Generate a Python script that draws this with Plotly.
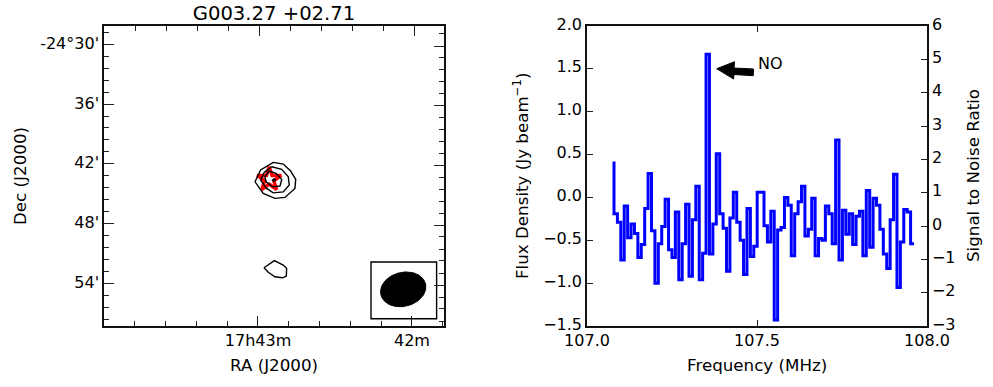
import numpy as np
import plotly.graph_objects as go

W, H = 993, 387
FONT = "DejaVu Sans"
TICK = 16
LABEL = 16.7

# --- spectrum -------------------------------------------------------------
flux = [0.42, -0.19, -0.29, -0.73, -0.10, -0.47, -0.31, -0.42, -0.70, -0.55, -0.13, 0.28,
        -0.39, -1.00, -0.54, -0.34, -0.02, -0.61, -0.70, -0.17, -0.96, -0.54, -0.08, -0.92,
        -0.26, 0.13, -0.96, -0.65, 1.67, -0.66, -0.31, 0.51, -0.19, -0.36, -0.86, -0.24,
        0.06, -0.29, -0.50, -0.90, -0.13, -0.69, -0.57, 0.06, 0.06, -0.33, -0.52, -0.16,
        -1.43, -0.38, -0.35, 0.00, -0.09, -0.68, -0.19, -0.05, 0.13, -0.45, -0.37, -0.01,
        -0.68, -0.48, -0.50, -0.10, -0.19, -0.54, 0.67, -0.73, -0.15, -0.43, -0.19, -0.55,
        -0.22, -0.16, -0.68, 0.08, -0.58, -0.01, -0.09, -0.37, -0.66, -0.83, -0.26, 0.27,
        -1.05, -0.52, -0.14, -0.17, -0.54]
freq_start, freq_end = 107.0794, 107.9618
freq = [freq_start + i * (freq_end - freq_start) / (len(flux) - 1) for i in range(len(flux))]

freq_ticks = [107.0, 107.5, 108.0]
flux_ticks = [-1.5, -1.0, -0.5, 0.0, 0.5, 1.0, 1.5, 2.0]
snr_ticks = [-3, -2, -1, 0, 1, 2, 3, 4, 5, 6]

# --- map (RA in minutes past 17h, Dec in arcmin south of -24 deg) ----------
ra_major = [43, 42]
ra_labels = ["17h43m", "42m"]
ra_minor = [43.8, 43.6, 43.4, 43.2, 42.8, 42.6, 42.4, 42.2, 41.8]
dec_major = [-30, -36, -42, -48, -54]
dec_labels = ["-24°30'", "36'", "42'", "48'", "54'"]
dec_minor = [-28.8, -31.2, -32.4, -33.6, -34.8, -37.2, -38.4, -39.6, -40.8, -43.2, -44.4, -45.6,
             -46.8, -49.2, -50.4, -51.6, -52.8, -55.2, -56.4, -57.6]
# the opposite edges of the sky grid sit slightly off the labelled edges
ra_top_major = [42.992, 41.985]
ra_top_minor = [43.798, 43.596, 43.395, 43.194, 42.790, 42.589, 42.388, 42.187]
dec_right_major = [-30.17, -36.12, -42.15, -48.14, -54.17]
dec_right_minor = [-28.96, -31.37, -32.57, -33.77, -34.92, -37.32, -38.53, -39.73, -40.94,
                   -43.35, -44.55, -45.75, -46.94, -49.34, -50.55, -51.75, -52.96,
                   -55.37, -56.57, -57.78]

c1_ra = [42.900, 42.836, 42.788, 42.755, 42.760, 42.825, 42.890, 42.966, 43.019, 42.983, 42.900]
c1_dec = [-41.85, -42.02, -42.72, -43.56, -44.47, -45.37, -45.47, -44.97, -43.80, -42.62, -41.85]
c2_ra = [42.911, 42.846, 42.803, 42.797, 42.836, 42.901, 42.944, 42.983, 42.959, 42.911]
c2_dec = [-42.29, -42.55, -43.30, -44.13, -44.81, -44.91, -44.47, -43.63, -42.85, -42.29]
c3_ra = [42.929, 42.883, 42.846, 42.857, 42.905, 42.948, 42.955, 42.929]
c3_dec = [-42.72, -42.95, -43.56, -44.23, -44.31, -43.80, -43.30, -42.72]
c4_ra = [42.896, 42.887, 42.896, 42.905, 42.896]
c4_dec = [-43.50, -43.63, -43.76, -43.63, -43.50]
c5_ra = [42.961, 42.894, 42.836, 42.814, 42.816, 42.840, 42.890, 42.933, 42.961]
c5_dec = [-52.43, -51.72, -52.16, -52.49, -53.27, -53.44, -53.34, -52.89, -52.43]
contours = [(c1_ra, c1_dec), (c2_ra, c2_dec), (c3_ra, c3_dec), (c4_ra, c4_dec), (c5_ra, c5_dec)]

source_ra, source_dec = [42.927], [-43.555]
beam_ra, beam_dec = 42.057, -54.60

# --- figure ---------------------------------------------------------------
fig = go.Figure()
fig.add_trace(go.Scatter(x=source_ra, y=source_dec, mode="markers",
                         marker=dict(symbol="star-open", size=18, color="red",
                                     line=dict(color="red", width=3.5)),
                         showlegend=False, xaxis="x", yaxis="y"))
for ra, dec in contours:
    fig.add_trace(go.Scatter(x=ra, y=dec, mode="lines", line=dict(color="black", width=1.4),
                             showlegend=False, hoverinfo="skip", xaxis="x", yaxis="y"))
t = np.linspace(0, 2 * np.pi, 120)
a_px, b_px, tilt = 23.0, 17.0, np.radians(14)
ex = a_px * np.cos(t) * np.cos(tilt) - b_px * np.sin(t) * np.sin(tilt)
ey = a_px * np.cos(t) * np.sin(tilt) + b_px * np.sin(t) * np.cos(tilt)
fig.add_trace(go.Scatter(x=beam_ra - ex / 154.0, y=beam_dec + ey / 9.96, mode="lines", fill="toself",
                         fillcolor="black", line=dict(color="black", width=1),
                         showlegend=False, hoverinfo="skip", xaxis="x", yaxis="y"))

fig.add_trace(go.Scatter(x=freq, y=flux, mode="lines", line=dict(color="#0000ff", width=3, shape="vh"),
                         showlegend=False, xaxis="x2", yaxis="y2"))
fig.add_trace(go.Scatter(x=[107, 107], y=[snr_ticks[0], snr_ticks[-1]], mode="lines", line=dict(width=0),
                         opacity=0, showlegend=False, hoverinfo="skip", xaxis="x2", yaxis="y3"))
# carriers for the opposite-edge tick axes of the map
fig.add_trace(go.Scatter(x=[43], y=[-30], mode="markers", opacity=0, showlegend=False, hoverinfo="skip",
                         xaxis="x3", yaxis="y4"))

frame = dict(showline=True, linecolor="#111111", linewidth=1.5, showgrid=False, zeroline=False,
             automargin=False, tickcolor="#222222",
             tickfont=dict(family=FONT, size=TICK, color="black"), ticks="inside")
minor = lambda vals: dict(tickmode="array", tickvals=vals, ticks="inside", ticklen=5, tickwidth=1,
                          tickcolor="#222222", showgrid=False)
map_x_range, map_y_range = [44.0, 41.792], [-58.28, -28.16]
dom_y = [1 - 326 / H, 1 - 26 / H]

fig.update_layout(
    width=W, height=H, margin=dict(l=0, r=0, t=0, b=0),
    paper_bgcolor="white", plot_bgcolor="white", showlegend=False,
    title=dict(text="G003.27 +02.71", x=274 / W, xanchor="center", y=1 - 13 / H, yanchor="middle",
               font=dict(family=FONT, size=19.6, color="black"), automargin=False),
    xaxis=dict(frame, domain=[104 / W, 444 / W], anchor="y", range=map_x_range, mirror=True,
               tickmode="array", tickvals=ra_major, ticktext=ra_labels, ticklen=10, tickwidth=1,
               ticklabelstandoff=-1, minor=minor(ra_minor)),
    yaxis=dict(frame, domain=dom_y, anchor="x", range=map_y_range, mirror=True, ticklabelshift=-1,
               tickmode="array", tickvals=dec_major, ticktext=dec_labels, ticklen=10, tickwidth=1,
               minor=minor(dec_minor)),
    xaxis3=dict(frame, domain=[104 / W, 444 / W], anchor="y", overlaying="x", side="top", range=map_x_range,
                showline=False, showticklabels=False, tickmode="array", tickvals=ra_top_major,
                ticklen=10, tickwidth=1, minor=minor(ra_top_minor)),
    yaxis4=dict(frame, domain=dom_y, anchor="x", overlaying="y", side="right", range=map_y_range,
                showline=False, showticklabels=False, tickmode="array", tickvals=dec_right_major,
                ticklen=10, tickwidth=1, minor=minor(dec_right_minor)),
    xaxis2=dict(frame, domain=[587 / W, 927 / W], anchor="y2", range=[107.0, 108.0], mirror="ticks",
                ticklabelstandoff=-1,
                tickmode="array", tickvals=freq_ticks, tickformat=".1f", ticklen=6, tickwidth=1),
    yaxis2=dict(frame, domain=dom_y, anchor="x2", range=[-1.5, 2.0], ticklabelshift=-2,
                tickmode="array", tickvals=flux_ticks, tickformat=".1f", ticklen=6, tickwidth=1),
    yaxis3=dict(frame, domain=dom_y, anchor="x2", overlaying="y2", side="right", ticklabelshift=-2,
                range=[-3, 6], tickmode="array", tickvals=snr_ticks, ticklen=6, tickwidth=1),
)

labels = [("RA (J2000)", 274, 365, 0), ("Dec (J2000)", 20, 176, -90), ("Frequency (MHz)", 757, 365, 0),
          ("Flux Density (Jy beam<sup>−1</sup>)", 521, 176, -90), ("Signal to Noise Ratio", 973, 176, -90)]
for text, px, py, angle in labels:
    fig.add_annotation(x=px / W, y=1 - py / H, xref="paper", yref="paper", text=text, showarrow=False,
                       textangle=angle, xanchor="center", yanchor="middle",
                       font=dict(family=FONT, size=LABEL, color="black"))

fig.add_shape(type="rect", xref="x", yref="y", x0=42.266, x1=41.840, y0=-51.86, y1=-57.55,
              line=dict(color="black", width=1.4), layer="below")

arrow_x = [107.3815, 107.434, 107.4324, 107.4897, 107.489, 107.4324, 107.431]
arrow_y = [1.502, 1.583, 1.51, 1.498, 1.42, 1.434, 1.382]
fig.add_trace(go.Scatter(x=arrow_x + arrow_x[:1], y=arrow_y + arrow_y[:1], mode="lines", fill="toself",
                         fillcolor="black", line=dict(color="black", width=1),
                         showlegend=False, hoverinfo="skip", xaxis="x2", yaxis="y2"))
fig.add_annotation(x=107.497, y=1.56, xref="x2", yref="y2", text="NO", showarrow=False, xanchor="left",
                   yanchor="middle", font=dict(family=FONT, size=TICK, color="black"))

fig.write_html("out.html", config=dict(displayModeBar=False), post_script="document.body.style.margin='0';")
